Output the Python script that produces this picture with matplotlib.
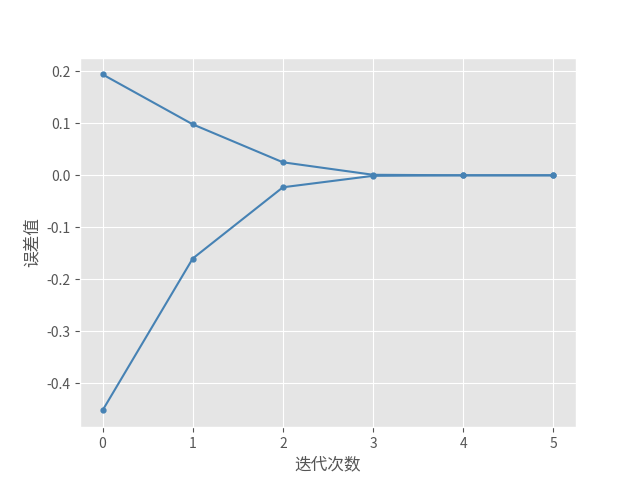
import matplotlib
matplotlib.use("Agg")
import matplotlib.pyplot as plt

plt.style.use("ggplot")
plt.rcParams['font.family'] = ['Noto Sans CJK SC', 'DejaVu Sans']
plt.rcParams['axes.unicode_minus'] = False

iterations = [0, 1, 2, 3, 4, 5]
upper_err = [0.194, 0.098, 0.025, 0.001, 0.0, 0.0]
lower_err = [-0.452, -0.160, -0.023, -0.001, 0.0, 0.0]

fig, ax = plt.subplots(figsize=(6.4, 4.8), dpi=100)
ax.plot(iterations, upper_err, color='steelblue', marker='o', markersize=3.5)
ax.plot(iterations, lower_err, color='steelblue', marker='o', markersize=3.5)
ax.set_xlabel('迭代次数')
ax.set_ylabel('误差值')
fig.savefig('out.png')
